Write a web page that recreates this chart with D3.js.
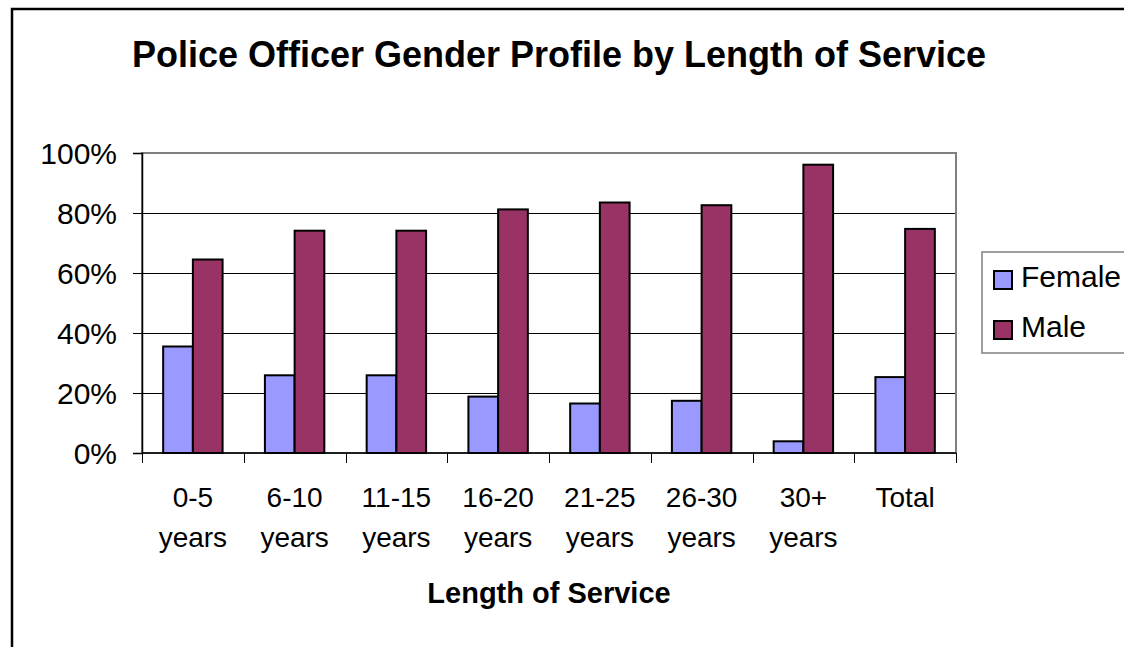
<!DOCTYPE html>
<html>
<head>
<meta charset="utf-8">
<script src="https://cdn.jsdelivr.net/npm/d3@7"></script>
<style>
  html, body { margin: 0; padding: 0; background: #fff; overflow: hidden; }
  svg { display: block; font-family: "Liberation Sans", Arial, sans-serif; }
</style>
</head>
<body>
<div id="chart"></div>
<script>
// Data
const categories = [["0-5", "years"], ["6-10", "years"], ["11-15", "years"], ["16-20", "years"],
                    ["21-25", "years"], ["26-30", "years"], ["30+", "years"], ["Total"]];
const seriesNames = ["Female", "Male"];
const female = [0.355, 0.259, 0.259, 0.188, 0.165, 0.174, 0.039, 0.253];
const male   = [0.645, 0.741, 0.741, 0.812, 0.835, 0.826, 0.961, 0.747];
const yTicks = [0, 0.2, 0.4, 0.6, 0.8, 1.0];
const colors = ["#9999FF", "#993366"];

const width = 1124, height = 647;
// plot area edges
const plot = {top: 153, right: 956, bottom: 453, left: 142};

const svg = d3.select('#chart').append('svg')
    .attr('width', width)
    .attr('height', height)
    .style('overflow', 'hidden');

// outer chart border (runs off the right and bottom of the picture)
svg.append('path')
    .attr('d', `M12,${height + 5}V9H${width + 5}`)
    .attr('fill', 'none')
    .attr('stroke', '#000')
    .attr('stroke-width', 2.5);

// title
svg.append('text')
    .attr('x', 559).attr('y', 67)
    .attr('text-anchor', 'middle')
    .style('font-size', '36px')
    .style('font-weight', 'bold')
    .text('Police Officer Gender Profile by Length of Service');

// scales
const idx = d3.range(categories.length);
const scaleX = d3.scaleBand(idx, [plot.left, plot.right]).paddingInner(0.416).paddingOuter(0.208);
const scaleSeries = d3.scaleBand(seriesNames, [0, scaleX.bandwidth()]);
const scaleY = d3.scaleLinear([0, 1], [plot.bottom, plot.top]);

// gridlines
svg.append('g')
    .selectAll('line')
    .data(yTicks.slice(1, -1))
    .join('line')
    .attr('x1', plot.left).attr('x2', plot.right)
    .attr('y1', d => Math.round(scaleY(d)) + 0.5)
    .attr('y2', d => Math.round(scaleY(d)) + 0.5)
    .attr('stroke', '#000')
    .attr('stroke-width', 1);

// plot area border
svg.append('rect')
    .attr('x', plot.left).attr('y', plot.top)
    .attr('width', plot.right - plot.left)
    .attr('height', plot.bottom - plot.top)
    .attr('fill', 'none')
    .attr('stroke', '#808080')
    .attr('stroke-width', 2);

// bars
const rows = idx.map(i => [female[i], male[i]]);
svg.append('g')
    .selectAll('g')
    .data(rows)
    .join('g')
    .attr('transform', (d, i) => `translate(${scaleX(i)},0)`)
    .selectAll('rect')
    .data(d => d.map((v, j) => ({v, s: seriesNames[j], j})))
    .join('rect')
    .attr('x', d => scaleSeries(d.s))
    .attr('y', d => scaleY(d.v))
    .attr('width', scaleSeries.bandwidth())
    .attr('height', d => scaleY(0) - scaleY(d.v))
    .attr('fill', d => colors[d.j])
    .attr('stroke', '#000')
    .attr('stroke-width', 2);

// y axis
const axisY = svg.append('g')
    .attr('transform', `translate(${plot.left},0)`)
    .call(d3.axisLeft(scaleY).tickValues(yTicks).tickFormat(d3.format('.0%')).tickSize(9).tickPadding(16));
axisY.select('.domain').attr('stroke', '#000').attr('stroke-width', 1.5);
axisY.selectAll('.tick line').attr('stroke', '#000');
axisY.selectAll('.tick text')
    .style('font-size', '30px')
    .attr('fill', '#000')
    .attr('dy', '0.34em');

// x axis: ticks on category boundaries
const boundaries = idx.map(i => scaleX(i) - scaleX.step() * scaleX.paddingInner() / 2).concat([plot.right]);
const axisX = svg.append('g');
axisX.append('line')
    .attr('x1', plot.left).attr('x2', plot.right)
    .attr('y1', plot.bottom).attr('y2', plot.bottom)
    .attr('stroke', '#000').attr('stroke-width', 1.5);
axisX.selectAll('line.tick')
    .data(boundaries)
    .join('line')
    .classed('tick', true)
    .attr('x1', d => Math.round(d) + 0.5).attr('x2', d => Math.round(d) + 0.5)
    .attr('y1', plot.bottom).attr('y2', plot.bottom + 10)
    .attr('stroke', '#000');
axisX.selectAll('text')
    .data(categories)
    .join('text')
    .attr('x', (d, i) => scaleX(i) + scaleX.bandwidth() / 2)
    .attr('y', 507)
    .attr('text-anchor', 'middle')
    .style('font-size', '28px')
    .selectAll('tspan')
    .data(d => d)
    .join('tspan')
    .attr('x', function() { return this.parentNode.getAttribute('x'); })
    .attr('dy', (d, i) => i === 0 ? 0 : 40)
    .text(d => d);

// x axis title
svg.append('text')
    .attr('x', (plot.left + plot.right) / 2).attr('y', 603)
    .attr('text-anchor', 'middle')
    .style('font-size', '29px')
    .style('font-weight', 'bold')
    .text('Length of Service');

// legend
const legend = svg.append('g').attr('transform', 'translate(982,252)');
legend.append('rect')
    .attr('width', 300).attr('height', 101)
    .attr('fill', '#fff')
    .attr('stroke', '#808080')
    .attr('stroke-width', 1.5);
const items = legend.selectAll('g.item')
    .data(seriesNames)
    .join('g')
    .classed('item', true)
    .attr('transform', (d, i) => `translate(12,${19 + i * 50})`);
items.append('rect')
    .attr('width', 18).attr('height', 18)
    .attr('fill', (d, i) => colors[i])
    .attr('stroke', '#000')
    .attr('stroke-width', 2);
items.append('text')
    .attr('x', 27).attr('y', 16)
    .style('font-size', '30px')
    .text(d => d);
</script>
</body>
</html>
